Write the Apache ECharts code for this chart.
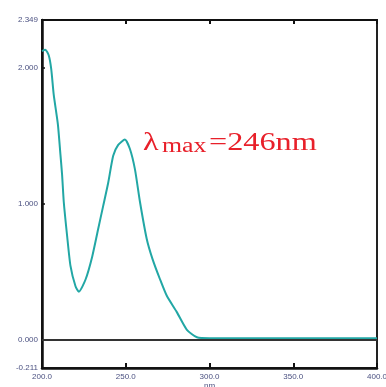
<!DOCTYPE html>
<html>
<head>
<meta charset="utf-8">
<script src="https://cdn.jsdelivr.net/npm/echarts@6/dist/echarts.min.js"></script>
<style>
  html, body { margin: 0; padding: 0; background: #fff; overflow: hidden; }
  #chart { width: 386px; height: 387px; }
</style>
</head>
<body>
<div id="chart"></div>
<script>
// UV spectrum
const wavelengths = [200, 202, 204, 205.5, 207, 209.5, 211, 212, 213, 215, 217, 220, 222, 226, 230,
  233.5, 236.5, 239.5, 242.5, 245.5, 249.5, 252.5, 255.5, 258.5, 262.5, 266, 270.5, 274.5,
  280.5, 286.5, 292.5, 300, 320, 350, 380, 400]
const absorbance = [2.12, 2.13, 2.09, 1.99, 1.80, 1.58, 1.36, 1.21, 1.01, 0.76, 0.54, 0.39, 0.35, 0.44, 0.61,
  0.81, 0.98, 1.15, 1.35, 1.43, 1.47, 1.40, 1.25, 1.01, 0.74, 0.59, 0.44, 0.32,
  0.20, 0.07, 0.015, 0.008, 0.008, 0.008, 0.008, 0.008]
const yTicks = [-0.211, 0, 1, 2, 2.349]
const xMin = 200, xMax = 400, xStep = 50

const chart = echarts.init(document.getElementById('chart'))

const labelColor = '#4a5080'

const option = {
  animation: false,
  backgroundColor: '#fff',
  grid: {
    left: 42, right: 9, top: 20, bottom: 19,
    outerBoundsMode: 'none',
    show: true, borderColor: '#222', borderWidth: 2
  },
  xAxis: [{
    type: 'value',
    min: xMin, max: xMax, interval: xStep,
    name: 'nm', nameLocation: 'middle', nameGap: 14, nameMoveOverlap: false,
    nameTextStyle: { fontSize: 8, color: labelColor, verticalAlign: 'top' },
    axisLine: { onZero: false, lineStyle: { color: '#111', width: 2.5 } },
    axisTick: { inside: true, length: 5, lineStyle: { color: '#111', width: 2 } },
    axisLabel: { fontSize: 8, color: labelColor, margin: 5, formatter: v => v.toFixed(1) },
    splitLine: { show: false }
  }, {
    type: 'value',
    position: 'top',
    min: xMin, max: xMax, interval: xStep,
    axisLine: { onZero: false, lineStyle: { color: '#111', width: 2 } },
    axisTick: { inside: true, length: 4, lineStyle: { color: '#111', width: 2 } },
    axisLabel: { show: false },
    splitLine: { show: false }
  }],
  yAxis: {
    type: 'value',
    min: yTicks[0], max: yTicks[yTicks.length - 1],
    axisLine: { lineStyle: { color: '#111', width: 2.5 } },
    axisTick: { inside: true, length: 3, customValues: yTicks, lineStyle: { color: '#111', width: 1.5 } },
    axisLabel: { fontSize: 8, color: labelColor, margin: 4, customValues: yTicks, formatter: v => v.toFixed(3) },
    splitLine: { show: false }
  },
  series: [{
    type: 'line',
    xAxisIndex: 0,
    data: wavelengths.map((w, i) => [w, absorbance[i]]),
    symbol: 'none',
    smooth: 0.2,
    lineStyle: { color: '#22a7a5', width: 2 },
    markLine: {
      silent: true,
      symbol: 'none',
      label: { show: false },
      lineStyle: { color: '#333', width: 2, type: 'solid' },
      data: [{ yAxis: 0 }]
    }
  }],
  graphic: [
    { type: 'text', x: 143, y: 143, scaleX: 1.29,
      style: { text: 'λ', font: '25px "Liberation Serif"', fill: '#e8202a', verticalAlign: 'middle' } },
    { type: 'text', x: 162, y: 146.5, scaleX: 1.29,
      style: { text: 'max', font: '20px "Liberation Serif"', fill: '#e8202a', verticalAlign: 'middle' } },
    { type: 'text', x: 209, y: 143.5, scaleX: 1.29,
      style: { text: '=246nm', font: '25px "Liberation Serif"', fill: '#e8202a', verticalAlign: 'middle' } }
  ]
}

chart.setOption(option)
</script>
</body>
</html>
